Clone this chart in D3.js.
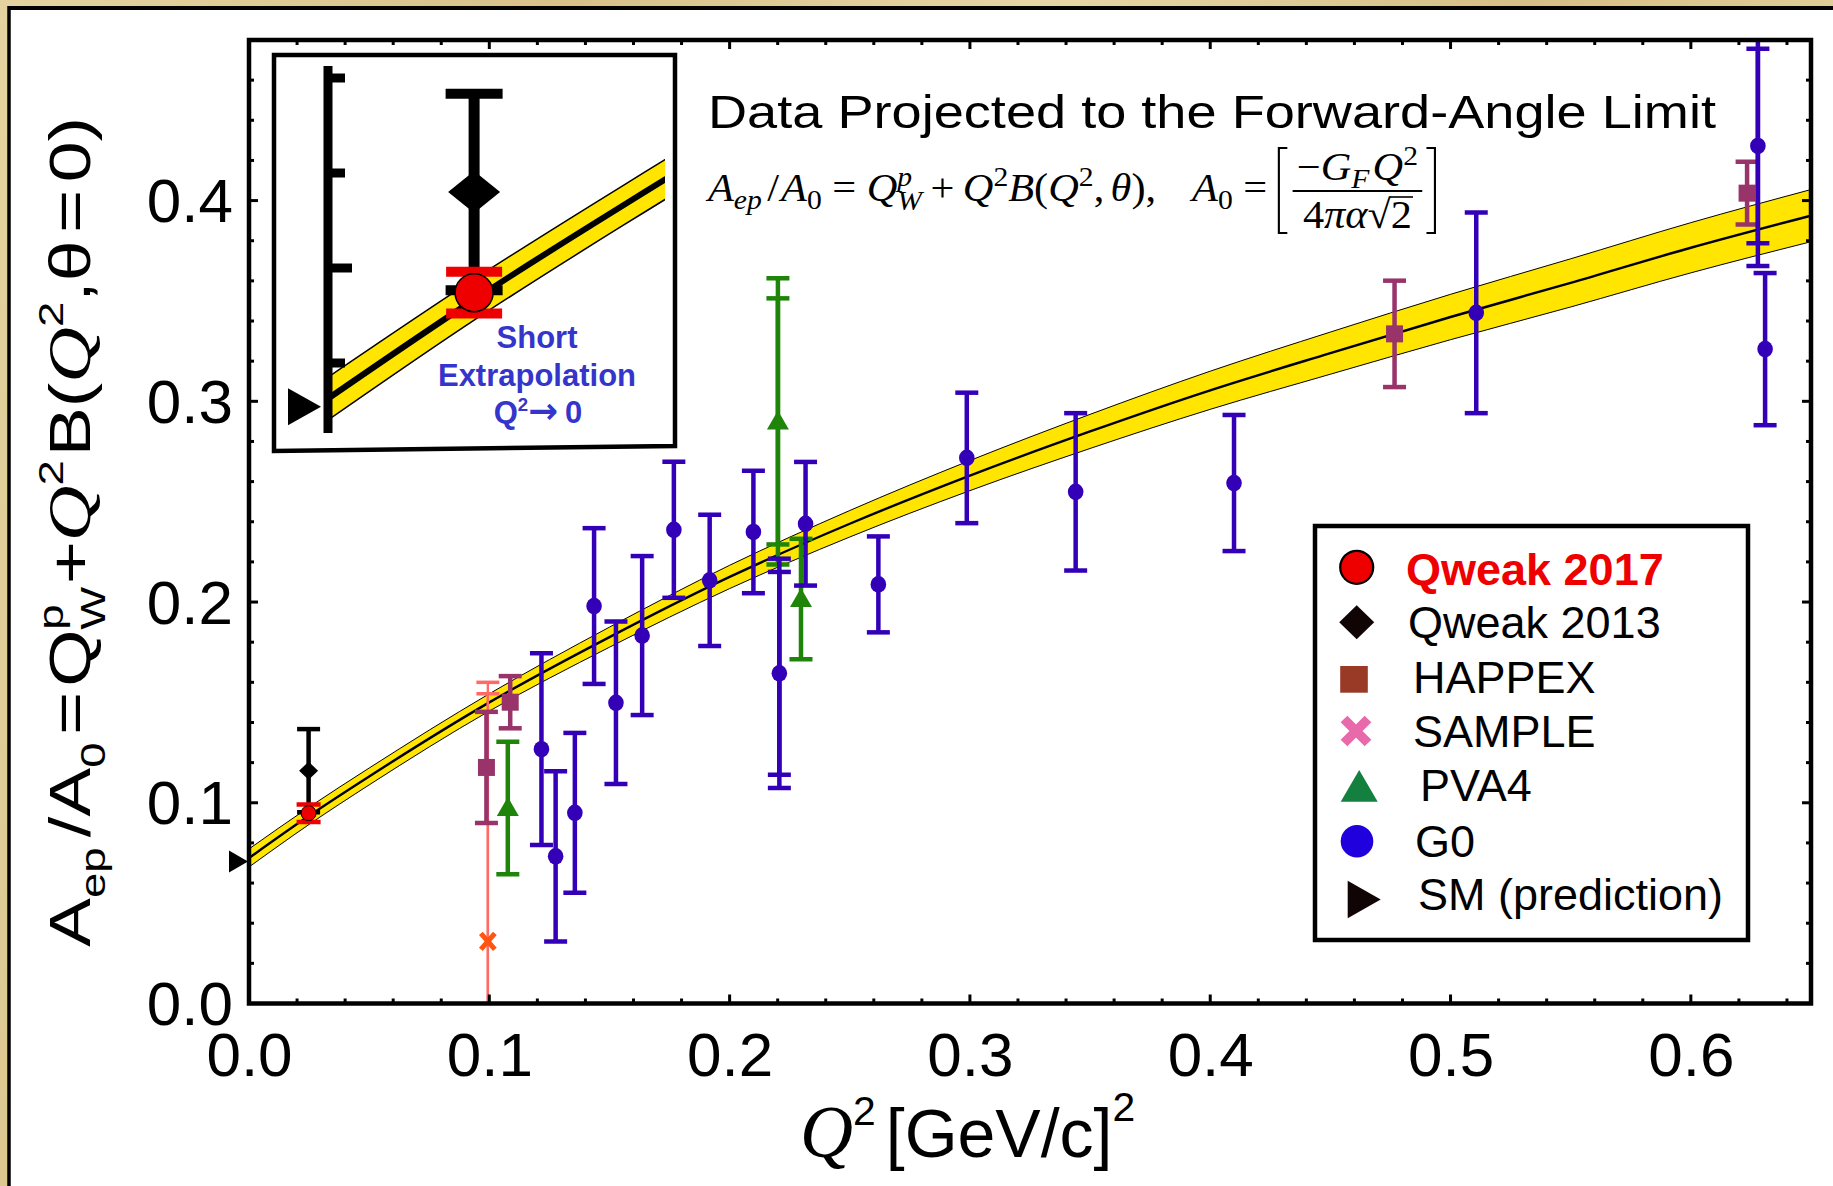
<!DOCTYPE html>
<html><head><meta charset="utf-8">
<script src="https://cdn.jsdelivr.net/npm/d3@7"></script>
<style>html,body{margin:0;padding:0;background:#fff;}svg{display:block;}</style>
</head><body>
<svg id="c" width="1833" height="1186"></svg>
<script>
// ================= DATA =================
// Fit curve (central value) and band half-width
const fitQ2  = [0, 0.025, 0.05, 0.1, 0.15, 0.2, 0.25, 0.3, 0.35, 0.4, 0.45, 0.5, 0.55, 0.6, 0.65];
const fitVal = [0.0725, 0.0935, 0.1131, 0.150, 0.1825, 0.2125, 0.239, 0.263, 0.285, 0.3055, 0.324, 0.342, 0.359, 0.3765, 0.3925];
const fitErr = [0.0045, 0.0043, 0.0042, 0.0043, 0.005, 0.0058, 0.0066, 0.0075, 0.0085, 0.0095, 0.0105, 0.0113, 0.012, 0.0125, 0.013];

const qweak2017Q2 = [0.0248], qweak2017Val = [0.0948], qweak2017Err = [0.0044];
const qweak2013Q2 = [0.0248], qweak2013Val = [0.1160], qweak2013Err = [0.0207];
const smQ2 = [0], smVal = [0.0708];

const happexQ2  = [0.0988, 0.1087, 0.4767, 0.6234];
const happexVal = [0.1176, 0.1501, 0.3336, 0.4037];
const happexErr = [0.0277, 0.0130, 0.0265, 0.0156];

const sampleQ2 = [0.0994], sampleVal = [0.031], sampleErr = [0.129], sampleErrInner = [0.1233];

const pva4Q2  = [0.1077, 0.2201, 0.2297];
const pva4Val = [0.0974, 0.290, 0.2015];
const pva4Err = [0.0330, 0.0713, 0.0300];
const pva4ErrInner = [null, 0.0613, null];

const g0Q2  = [0.1217, 0.1276, 0.1356, 0.1436, 0.1527, 0.1636, 0.1768, 0.1917, 0.2099, 0.2207, 0.2316, 0.2619, 0.2987, 0.3440, 0.4099, 0.5107, 0.6279, 0.6309];
const g0Val = [0.1267, 0.0733, 0.0950, 0.1980, 0.1498, 0.1833, 0.2360, 0.2108, 0.2349, 0.1645, 0.2390, 0.2088, 0.2718, 0.2549, 0.2593, 0.3441, 0.4272, 0.3260];
const g0Err = [0.0478, 0.0424, 0.0398, 0.0388, 0.0405, 0.0396, 0.0339, 0.0327, 0.0305, 0.0571, 0.0308, 0.0239, 0.0325, 0.0392, 0.0339, 0.0500, 0.0598, 0.0379];
const g0ErrInner = [null, null, null, null, null, null, null, null, null, 0.0505, null, null, null, null, null, null, 0.0484, null];

const xTickLabels = ['0.0', '0.1', '0.2', '0.3', '0.4', '0.5', '0.6'];
const yTickLabels = ['0.0', '0.1', '0.2', '0.3', '0.4'];
const insetTickVals = [0.08, 0.10, 0.12, 0.14];
const legendNames = ['Qweak 2017', 'Qweak 2013', 'HAPPEX', 'SAMPLE', 'PVA4', 'G0', 'SM (prediction)'];
const titleText = 'Data Projected to the Forward-Angle Limit';
const insetLines = ['Short', 'Extrapolation'];

// ================= SETUP =================
const SANS = '"Liberation Sans", Arial, Helvetica, sans-serif';
const SERIF = '"Liberation Serif", "Times New Roman", serif';
const svg = d3.select('#c');
const M = {l: 249, r: 1811, t: 40, b: 1003.5};
const x = d3.scaleLinear().domain([0, 0.65]).range([M.l, M.r]);
const y = d3.scaleLinear().domain([0, 0.48]).range([M.b, M.t]);

const C = {
  band: '#ffe500', g0: '#3300b8', happex: '#98346a', pva4: '#1f850a',
  sampleLine: '#ff6a66', sampleMark: '#ff5511', red: '#ee0000', blue: '#3535cc'
};

// background frame
const defs = svg.append('defs');
const tex = defs.append('linearGradient').attr('id', 'tan').attr('x1', 0).attr('x2', 1).attr('y1', 0).attr('y2', 0.2);
[['0%', '#e4d3a0'], ['30%', '#d8c189'], ['55%', '#e6d6a6'], ['80%', '#d6bf86'], ['100%', '#e2cf9a']].forEach(s =>
  tex.append('stop').attr('offset', s[0]).attr('stop-color', s[1]));
svg.append('rect').attr('width', 1833).attr('height', 1186).attr('fill', 'url(#tan)');
svg.append('rect').attr('x', 9).attr('y', 8).attr('width', 1833).attr('height', 1186).attr('fill', '#fff');
svg.append('line').attr('x1', 9).attr('x2', 1833).attr('y1', 8).attr('y2', 8).attr('stroke', '#000').attr('stroke-width', 4);
svg.append('line').attr('x1', 9).attr('x2', 9).attr('y1', 6).attr('y2', 1186).attr('stroke', '#000').attr('stroke-width', 3.5);

defs.append('clipPath').attr('id', 'plotClip').append('rect')
  .attr('x', M.l).attr('y', M.t).attr('width', M.r - M.l).attr('height', M.b - M.t);

// rich text helper: lays pieces left to right from 0, returns total width
function rich(g, pieces, o) {
  let cx = 0;
  pieces.forEach(p => {
    if (p.sp !== undefined) { cx += p.sp; return; }
    const t = g.append('text').attr('x', cx).attr('y', p.dy || 0)
      .attr('font-family', p.ff || o.ff).attr('font-size', (p.s || 1) * o.fs)
      .attr('font-style', p.it ? 'italic' : 'normal')
      .attr('font-weight', p.b ? 'bold' : (o.fw || 'normal'))
      .attr('fill', o.fill || '#000').text(p.t);
    const w = t.node().getComputedTextLength();
    if (!p.hold) cx += w;
  });
  return cx;
}

// ================= FIT BAND =================
const fit = fitQ2.map((q, i) => ({q, v: fitVal[i], e: fitErr[i]}));
function drawBand(g, xs, ys, lw, ew) {
  g.append('path').datum(fit)
    .attr('d', d3.area().x(d => xs(d.q)).y0(d => ys(d.v - d.e)).y1(d => ys(d.v + d.e)).curve(d3.curveMonotoneX))
    .attr('fill', C.band);
  [-1, 1].forEach(s => g.append('path').datum(fit)
    .attr('d', d3.line().x(d => xs(d.q)).y(d => ys(d.v + s * d.e)).curve(d3.curveMonotoneX))
    .attr('fill', 'none').attr('stroke', '#000').attr('stroke-width', ew));
  g.append('path').datum(fit)
    .attr('d', d3.line().x(d => xs(d.q)).y(d => ys(d.v)).curve(d3.curveMonotoneX))
    .attr('fill', 'none').attr('stroke', '#000').attr('stroke-width', lw);
}
const plot = svg.append('g').attr('clip-path', 'url(#plotClip)');
drawBand(plot, x, y, 2.4, 1);

// ================= ERROR BARS & MARKERS =================
function errBar(g, xs, ys, q, v, e, col, o) {
  const X = xs(q);
  g.append('line').attr('x1', X).attr('x2', X).attr('y1', ys(v - e)).attr('y2', ys(v + e))
    .attr('stroke', col).attr('stroke-width', o.lw);
  [v - e, v + e].forEach(c => g.append('line')
    .attr('x1', X - o.cw / 2).attr('x2', X + o.cw / 2).attr('y1', ys(c)).attr('y2', ys(c))
    .attr('stroke', col).attr('stroke-width', o.ct));
}
const EB = {lw: 4.5, cw: 23, ct: 4.5};

// SAMPLE
sampleQ2.forEach((q, i) => {
  errBar(plot, x, y, q, sampleVal[i], sampleErr[i], C.sampleLine, {lw: 2.4, cw: 23, ct: 3.5});
  errBar(plot, x, y, q, sampleVal[i], sampleErrInner[i], C.sampleLine, {lw: 2.4, cw: 23, ct: 3.5});
  plot.append('path').attr('transform', `translate(${x(q)},${y(sampleVal[i])})`)
    .attr('d', 'M-7,-8L7,8M-7,8L7,-8').attr('stroke', C.sampleMark).attr('stroke-width', 5);
});
// HAPPEX
happexQ2.forEach((q, i) => {
  errBar(plot, x, y, q, happexVal[i], happexErr[i], C.happex, EB);
  plot.append('rect').attr('x', x(q) - 8.5).attr('y', y(happexVal[i]) - 8.5).attr('width', 17).attr('height', 17).attr('fill', C.happex);
});
// PVA4
pva4Q2.forEach((q, i) => {
  errBar(plot, x, y, q, pva4Val[i], pva4Err[i], C.pva4, EB);
  if (pva4ErrInner[i]) errBar(plot, x, y, q, pva4Val[i], pva4ErrInner[i], C.pva4, EB);
  const X = x(q), Y = y(pva4Val[i]);
  plot.append('path').attr('d', `M${X - 11},${Y + 8}L${X + 11},${Y + 8}L${X},${Y - 11}Z`).attr('fill', C.pva4);
});
// G0
g0Q2.forEach((q, i) => {
  errBar(plot, x, y, q, g0Val[i], g0Err[i], C.g0, EB);
  if (g0ErrInner[i]) errBar(plot, x, y, q, g0Val[i], g0ErrInner[i], C.g0, EB);
  plot.append('ellipse').attr('cx', x(q)).attr('cy', y(g0Val[i])).attr('rx', 7.8).attr('ry', 8.3).attr('fill', C.g0);
});
// Qweak 2013
qweak2013Q2.forEach((q, i) => {
  errBar(plot, x, y, q, qweak2013Val[i], qweak2013Err[i], '#000', EB);
  const X = x(q), Y = y(qweak2013Val[i]);
  plot.append('path').attr('d', `M${X},${Y - 9}L${X + 9.5},${Y}L${X},${Y + 9}L${X - 9.5},${Y}Z`).attr('fill', '#000');
});
// Qweak 2017
qweak2017Q2.forEach((q, i) => {
  errBar(plot, x, y, q, qweak2017Val[i], qweak2017Err[i], C.red, {lw: 4.5, cw: 24, ct: 4.5});
  plot.append('circle').attr('cx', x(q)).attr('cy', y(qweak2017Val[i])).attr('r', 7.5)
    .attr('fill', C.red).attr('stroke', '#000').attr('stroke-width', 1);
});

// ================= AXES FRAME =================
svg.append('rect').attr('x', M.l).attr('y', M.t).attr('width', M.r - M.l).attr('height', M.b - M.t)
  .attr('fill', 'none').attr('stroke', '#000').attr('stroke-width', 4.5);
const ax = svg.append('g').attr('stroke', '#000').attr('stroke-width', 3);
d3.range(0, 33).forEach(i => {
  const v = i * 0.02, L = (i % 5 === 0) ? 9 : 5, X = x(v);
  ax.append('line').attr('x1', X).attr('x2', X).attr('y1', M.b).attr('y2', M.b - L);
  ax.append('line').attr('x1', X).attr('x2', X).attr('y1', M.t).attr('y2', M.t + L);
});
d3.range(0, 25).forEach(i => {
  const v = i * 0.02, L = (i % 5 === 0) ? 9 : 5, Y = y(v);
  ax.append('line').attr('x1', M.l).attr('x2', M.l + L).attr('y1', Y).attr('y2', Y);
  ax.append('line').attr('x1', M.r).attr('x2', M.r - L).attr('y1', Y).attr('y2', Y);
});
// tick labels via d3 axes
const xAx = svg.append('g').attr('transform', `translate(0,${M.b})`)
  .call(d3.axisBottom(x).tickValues(xTickLabels.map(Number)).tickSize(0).tickFormat((d, i) => xTickLabels[i]));
xAx.select('.domain').remove();
xAx.selectAll('text').attr('y', 72.5).attr('dy', 0).attr('font-size', 62).attr('font-family', SANS).attr('fill', '#000');
const yAx = svg.append('g').attr('transform', `translate(${M.l},0)`)
  .call(d3.axisLeft(y).tickValues(yTickLabels.map(Number)).tickSize(0).tickFormat((d, i) => yTickLabels[i]));
yAx.select('.domain').remove();
yAx.selectAll('text').attr('x', -16).attr('dy', 21).attr('font-size', 62).attr('font-family', SANS).attr('fill', '#000');

// SM prediction triangle (tip on the axis)
smQ2.forEach((q, i) => {
  const X = x(q) - 1, Y = y(smVal[i]);
  svg.append('path').attr('d', `M${X},${Y}L${X - 19},${Y - 11}L${X - 19},${Y + 11}Z`).attr('fill', '#000');
});

// ================= AXIS LABELS =================
// x label
const xl = svg.append('g').attr('transform', 'translate(800,1157)');
rich(xl, [
  {t: 'Q', ff: SERIF, it: true, s: 1.08},
  {t: '2', s: 0.6, dy: -32},
  {sp: 10},
  {t: '[GeV/c]'},
  {t: '2', s: 0.6, dy: -36}
], {ff: SANS, fs: 68});

// y label (stretched along its length as in the reference)
const ylOuter = svg.append('g');
const ylIn = ylOuter.append('g');
const ylW = rich(ylIn, [
  {t: 'A'}, {t: 'ep', s: 0.62, dy: 15}, {sp: 8}, {t: '/A'}, {t: '0', s: 0.62, dy: 15}, {sp: 6},
  {t: '='}, {sp: 4}, {t: 'Q'}, {t: 'p', s: 0.62, dy: -27, hold: true}, {t: 'W', s: 0.62, dy: 15}, {sp: 2},
  {t: '+'}, {t: 'Q', ff: SERIF, it: true, s: 1.05}, {t: '2', s: 0.62, dy: -27}, {sp: 3},
  {t: 'B('}, {t: 'Q', ff: SERIF, it: true, s: 1.05}, {t: '2', s: 0.62, dy: -27}, {t: ','}, {t: 'θ'}, {sp: 6}, {t: '='}, {sp: 6}, {t: '0)'}
], {ff: SANS, fs: 58});
ylOuter.attr('transform', `translate(90,947) rotate(-90) scale(${830 / ylW},1)`);

// ================= TITLE & FORMULA =================
svg.append('text').attr('x', 708).attr('y', 128).attr('font-family', SANS).attr('font-size', 47)
  .attr('textLength', 1008).attr('lengthAdjust', 'spacingAndGlyphs').text(titleText);

const fo = svg.append('g');
const fi = fo.append('g');
const FS = 40;
let fx = rich(fi, [
  {t: 'A', it: true}, {t: 'ep', it: true, s: 0.7, dy: 8}, {sp: 5}, {t: '/'}, {sp: 2}, {t: 'A', it: true}, {t: '0', s: 0.7, dy: 8},
  {sp: 10}, {t: '='}, {sp: 10}, {t: 'Q', it: true}, {t: 'p', it: true, s: 0.7, dy: -15, hold: true}, {t: 'W', it: true, s: 0.7, dy: 9},
  {sp: 8}, {t: '+'}, {sp: 8}, {t: 'Q', it: true}, {t: '2', s: 0.7, dy: -15}, {t: 'B', it: true}, {t: '('},
  {t: 'Q', it: true}, {t: '2', s: 0.7, dy: -15}, {t: ','}, {sp: 6}, {t: 'θ', it: true}, {t: '),'}, {sp: 34},
  {t: 'A', it: true}, {t: '0', s: 0.7, dy: 8}, {sp: 10}, {t: '='}, {sp: 10}
], {ff: SERIF, fs: FS});
// left bracket
const bT = -53, bB = 32;
fi.append('path').attr('d', `M${fx + 9},${bT}H${fx + 1}V${bB}H${fx + 9}`).attr('fill', 'none').attr('stroke', '#000').attr('stroke-width', 2);
fx += 14;
const numG = fi.append('g'), denG = fi.append('g');
const nW = rich(numG, [{t: '\u2212'}, {t: 'G', it: true}, {t: 'F', it: true, s: 0.7, dy: 8}, {sp: 3}, {t: 'Q', it: true}, {t: '2', s: 0.7, dy: -15}], {ff: SERIF, fs: FS});
const dW0 = rich(denG, [{t: '4'}, {t: 'π', it: true}, {t: 'α', it: true}, {t: '\u221A'}, {t: '2'}], {ff: SERIF, fs: FS});
const fracW = Math.max(nW, dW0) + 8;
numG.attr('transform', `translate(${fx + (fracW - nW) / 2},-21)`);
denG.attr('transform', `translate(${fx + (fracW - dW0) / 2},27)`);
const twoW = denG.selectAll('text').nodes()[4].getComputedTextLength();
denG.append('line').attr('x1', dW0 - twoW - 1).attr('x2', dW0 + 1).attr('y1', -31).attr('y2', -31).attr('stroke', '#000').attr('stroke-width', 1.6);
fi.append('line').attr('x1', fx).attr('x2', fx + fracW).attr('y1', -10).attr('y2', -10).attr('stroke', '#000').attr('stroke-width', 1.8);
fx += fracW + 4;
fi.append('path').attr('d', `M${fx},${bT}H${fx + 8}V${bB}H${fx}`).attr('fill', 'none').attr('stroke', '#000').attr('stroke-width', 2);
fx += 9;
fo.attr('transform', `translate(708,201) scale(${728 / fx},1)`);

// ================= INSET =================
const ins = svg.append('g');
ins.append('path').attr('d', 'M274,55L675,55L675,446L274,451Z').attr('fill', '#fff').attr('stroke', '#000').attr('stroke-width', 4.5);
const xi = d3.scaleLinear().domain([0, 0.0572]).range([328, 665]);
const yi = d3.scaleLinear().domain([0.08, 0.14]).range([363, 78]);
defs.append('clipPath').attr('id', 'insClip').append('rect').attr('x', 330).attr('y', 58).attr('width', 335).attr('height', 388);
const insPlot = ins.append('g').attr('clip-path', 'url(#insClip)');
drawBand(insPlot, xi, yi, 6, 1.5);
// inset axis
ins.append('line').attr('x1', 328).attr('x2', 328).attr('y1', 66).attr('y2', 433).attr('stroke', '#000').attr('stroke-width', 9);
insetTickVals.forEach((v, i) => ins.append('line').attr('x1', 328).attr('x2', 328 + (i === 1 ? 24 : 17))
  .attr('y1', yi(v)).attr('y2', yi(v)).attr('stroke', '#000').attr('stroke-width', 9));
// inset Qweak 2013
qweak2013Q2.forEach((q, i) => {
  errBar(ins, xi, yi, q, qweak2013Val[i], qweak2013Err[i], '#000', {lw: 11, cw: 57, ct: 10});
  const X = xi(q), Y = yi(qweak2013Val[i]);
  ins.append('path').attr('d', `M${X},${Y - 21}L${X + 26},${Y}L${X},${Y + 21}L${X - 26},${Y}Z`).attr('fill', '#000');
});
qweak2017Q2.forEach((q, i) => {
  errBar(ins, xi, yi, q, qweak2017Val[i], qweak2017Err[i], C.red, {lw: 10, cw: 56, ct: 10});
  ins.append('circle').attr('cx', xi(q)).attr('cy', yi(qweak2017Val[i])).attr('r', 19)
    .attr('fill', C.red).attr('stroke', '#000').attr('stroke-width', 1.5);
});
smQ2.forEach((q, i) => {
  const X = xi(q) - 7, Y = yi(smVal[i]);
  ins.append('path').attr('d', `M${X},${Y}L${X - 33},${Y - 18.5}L${X - 33},${Y + 18.5}Z`).attr('fill', '#000');
});
insetLines.forEach((t, i) => ins.append('text').attr('x', 537).attr('y', [348, 386][i]).attr('text-anchor', 'middle')
  .attr('font-family', SANS).attr('font-weight', 'bold').attr('font-size', 31).attr('fill', C.blue).text(t));
const q0 = ins.append('g');
const q0W = rich(q0, [{t: 'Q'}, {t: '2', s: 0.6, dy: -12}, {t: '\u2192', ff: '"DejaVu Sans", sans-serif', s: 1.15}, {sp: 7}, {t: '0'}],
  {ff: SANS, fs: 31, fw: 'bold', fill: C.blue});
q0.attr('transform', `translate(${538 - q0W / 2},423)`);

// ================= LEGEND =================
const lg = svg.append('g');
lg.append('rect').attr('x', 1315).attr('y', 526).attr('width', 433).attr('height', 414)
  .attr('fill', '#fff').attr('stroke', '#000').attr('stroke-width', 4.5);
const legBase = [585, 637.7, 692.7, 746.7, 800.7, 856.7, 910];
const legX = [1406, 1408, 1413, 1413, 1420, 1415, 1418];
legendNames.forEach((n, i) => lg.append('text').attr('x', legX[i]).attr('y', legBase[i])
  .attr('font-family', SANS).attr('font-size', 45).attr('font-weight', i === 0 ? 'bold' : 'normal')
  .attr('fill', i === 0 ? C.red : '#000').text(n));
lg.append('circle').attr('cx', 1356.7).attr('cy', 567.3).attr('r', 16.5).attr('fill', C.red).attr('stroke', '#000').attr('stroke-width', 2.2);
lg.append('path').attr('d', 'M1356.7,605.3L1374.2,622.3L1356.7,639.3L1339.2,622.3Z').attr('fill', '#100404');
lg.append('rect').attr('x', 1340.2).attr('y', 666).attr('width', 27.6).attr('height', 26.7).attr('fill', '#983a26');
lg.append('path').attr('d', 'M1344,719L1368,743M1344,743L1368,719').attr('stroke', '#e86aaa').attr('stroke-width', 9.5);
lg.append('path').attr('d', 'M1340.7,801.7L1377.7,801.7L1359.2,770Z').attr('fill', '#13803f');
lg.append('circle').attr('cx', 1357).attr('cy', 841.3).attr('r', 16.3).attr('fill', '#2000dd');
lg.append('path').attr('d', 'M1347.7,880.7L1380.7,899.5L1347.7,918.3Z').attr('fill', '#100404');
</script>
</body></html>
